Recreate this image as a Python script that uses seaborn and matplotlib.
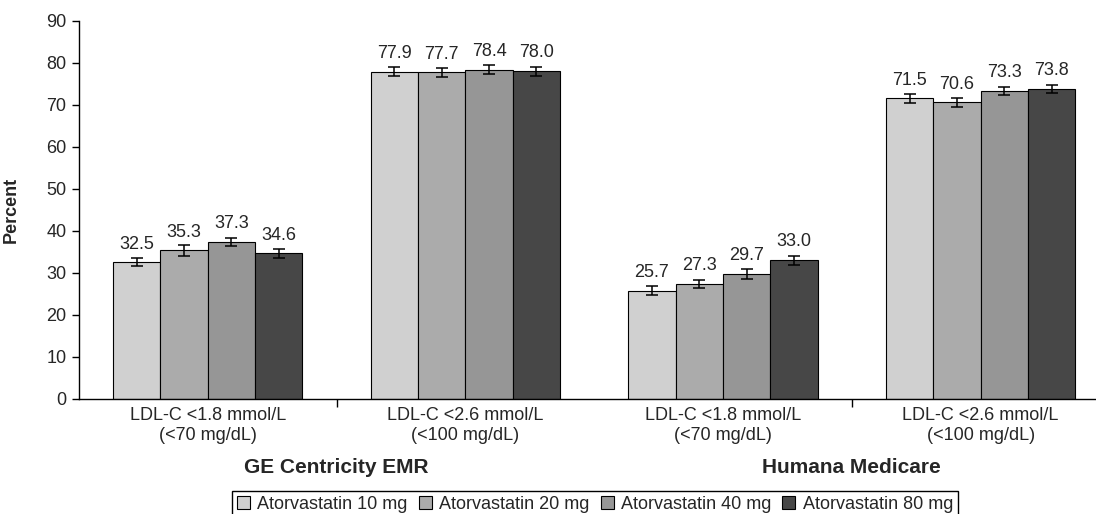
import pandas as pd
import matplotlib.pyplot as plt
import seaborn as sns

# values
categories = ["GE_1.8", "GE_2.6", "HU_1.8", "HU_2.6"]
tick_labels = ["LDL-C <1.8 mmol/L\n(<70 mg/dL)", "LDL-C <2.6 mmol/L\n(<100 mg/dL)",
               "LDL-C <1.8 mmol/L\n(<70 mg/dL)", "LDL-C <2.6 mmol/L\n(<100 mg/dL)"]
groups = ["GE Centricity EMR", "Humana Medicare"]
doses = ["Atorvastatin 10 mg", "Atorvastatin 20 mg", "Atorvastatin 40 mg", "Atorvastatin 80 mg"]

pct_10 = [32.5, 77.9, 25.7, 71.5]
pct_20 = [35.3, 77.7, 27.3, 70.6]
pct_40 = [37.3, 78.4, 29.7, 73.3]
pct_80 = [34.6, 78.0, 33.0, 73.8]

err_10 = [1.0, 1.1, 1.05, 1.1]
err_20 = [1.2, 1.05, 1.05, 1.05]
err_40 = [1.0, 1.05, 1.1, 1.05]
err_80 = [1.05, 1.05, 1.1, 1.0]

colors = ["#D0D0D0", "#ABABAB", "#969696", "#474747"]

rows = []
for dose, vals, errs in zip(doses, [pct_10, pct_20, pct_40, pct_80], [err_10, err_20, err_40, err_80]):
    for cat, v, e in zip(categories, vals, errs):
        rows.append({"category": cat, "dose": dose, "percent": v, "err": e})
df = pd.DataFrame(rows)

sns.set_style("ticks")
plt.rcParams["font.family"] = ["Liberation Sans", "DejaVu Sans"]
plt.rcParams["font.size"] = 13

fig = plt.figure(figsize=(10.96, 5.14), dpi=100)
ax = fig.add_axes([79 / 1096, 115.3 / 514, 1017 / 1096, 377.9 / 514])

sns.barplot(data=df, x="category", y="percent", hue="dose", order=categories,
            hue_order=doses, palette=colors, width=0.735, edgecolor="black",
            linewidth=0.8, errorbar=None, ax=ax)

# error bars and value labels
for cont, dose in zip(ax.containers, doses):
    sub = df[df["dose"] == dose].set_index("category").loc[categories]
    xs = [b.get_x() + b.get_width() / 2 for b in cont]
    ax.errorbar(xs, sub["percent"], yerr=sub["err"], fmt="none", ecolor="black",
                elinewidth=1.1, capsize=4, capthick=1.1, zorder=5)
    ax.bar_label(cont, labels=[f"{v:.1f}" for v in sub["percent"]], padding=7,
                 fontsize=13)

ax.set_ylim(0, 90)
ax.set_yticks(range(0, 91, 10))
ax.set_xlim(-0.5, 3.448)
ax.set_xticks(range(4))
ax.set_xticklabels(tick_labels, fontsize=13, linespacing=1.2)
ax.tick_params(axis="x", length=0, pad=6)
ax.set_xticks([0.5, 2.5], minor=True)
ax.tick_params(axis="x", which="minor", length=6, width=1, color="black", direction="out")
ax.tick_params(axis="y", length=5, width=1, color="black", labelsize=13, pad=4)
ax.set_xlabel("")
ax.set_ylabel("Percent", fontsize=13, fontweight="bold")
ax.yaxis.set_label_coords(-0.058, 0.5)
sns.despine(ax=ax)
for s in ["left", "bottom"]:
    ax.spines[s].set_color("black")
    ax.spines[s].set_linewidth(1)

for i, g in enumerate(groups):
    ax.text(0.5 + 2 * i, -0.183, g, transform=ax.get_xaxis_transform(),
            ha="center", va="center", fontsize=15, fontweight="bold")

handles, labels = ax.get_legend_handles_labels()
ax.get_legend().remove()
for h, c in zip(handles, colors):
    h.set_facecolor(c)
    h.set_edgecolor("black")
    h.set_linewidth(0.8)
leg = fig.legend(handles, labels, loc="upper center", bbox_to_anchor=(595 / 1096, 1 - 491 / 514),
                 bbox_transform=fig.transFigure, ncol=4, frameon=True, fancybox=False,
                 framealpha=1, edgecolor="black", borderpad=0.25, borderaxespad=0,
                 handlelength=0.72, handleheight=0.72, handletextpad=0.4,
                 columnspacing=0.62, fontsize=13)
leg.get_frame().set_linewidth(1.0)

plt.savefig("out.png", dpi=100)
